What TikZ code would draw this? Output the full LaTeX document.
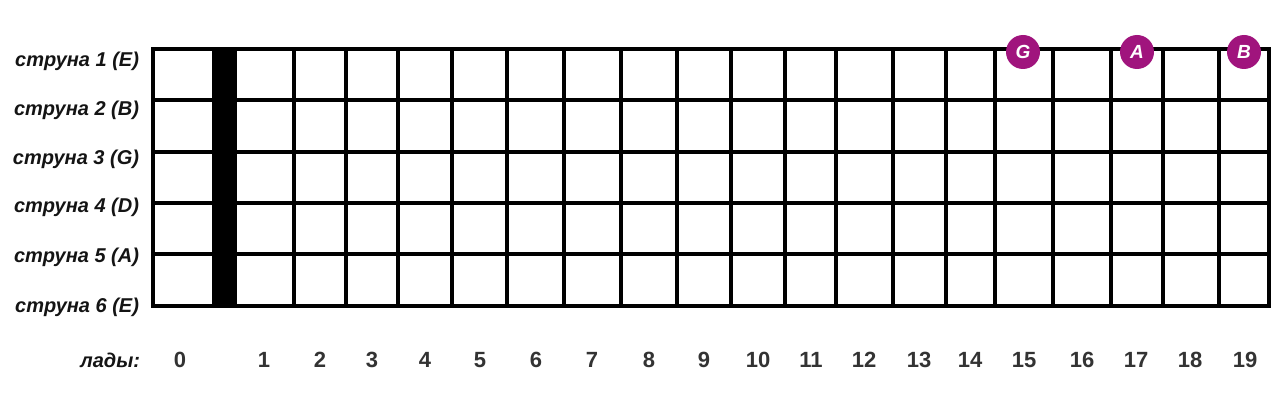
\documentclass[tikz,border=0pt]{standalone}
\usepackage{fontspec}
\setmainfont{Liberation Sans}
\usepackage{tikz}
\definecolor{notecol}{RGB}{160,20,125}

\begin{document}
\begin{tikzpicture}[x=1pt,y=-1pt,line width=4pt,
  fretline/.style={line width=4pt,line cap=rect},
  strlabel/.style={anchor=east,inner sep=0pt,text=black!92,font=\bfseries\itshape\fontsize{20}{20}\selectfont},
  fretnum/.style={inner sep=0pt,text=black!80,font=\bfseries\fontsize{22}{22}\selectfont},
  note/.style={circle,fill=notecol,minimum size=34pt,inner sep=0pt,text=white,font=\bfseries\itshape\fontsize{19}{19}\selectfont}]
\useasboundingbox (0,0) rectangle (1280,409);
\fill[white] (0,0) rectangle (1280,409);
% strings
\foreach \y in {100,152,203,254} {
   \draw[fretline] (153,\y) -- (1269,\y);
}
% frets
\foreach \x in %
{294,346,398,452,507,564,621,677,731,785,836,893,946,995,1053,1111,1163,1219} {
   \draw[fretline] (\x,49) -- (\x,306);
}
\draw[fretline] (153,49) rectangle (1269,306);
% nut
\fill (212,47) rectangle (237,308);
% string names
\foreach \n/\y/\t in %
{1/61/E,2/110/B,3/159/G,4/207/D,5/257/A,6/307/E} {
   \node[strlabel] (str\n) at (141,\y) {струна \n\ (\t)};
}
% fret numbers
\node[strlabel] (frets) at (142,360) {лады:};
\foreach \n/\x in %
{0/180,1/264,2/320,3/372,4/425,5/480,6/536,7/592,8/649,9/704,10/758,11/811,12/864,13/919,14/970,15/1024,16/1082,17/1136,18/1190,19/1245} {
   \node[fretnum] (fret\n) at (\x,360) {\n};
}
% notes
\node[note] (noteG) at (1023,52) {G};
\node[note] (noteA) at (1137,52) {A};
\node[note] (noteB) at (1244,52) {B};
\end{tikzpicture}
\end{document}
